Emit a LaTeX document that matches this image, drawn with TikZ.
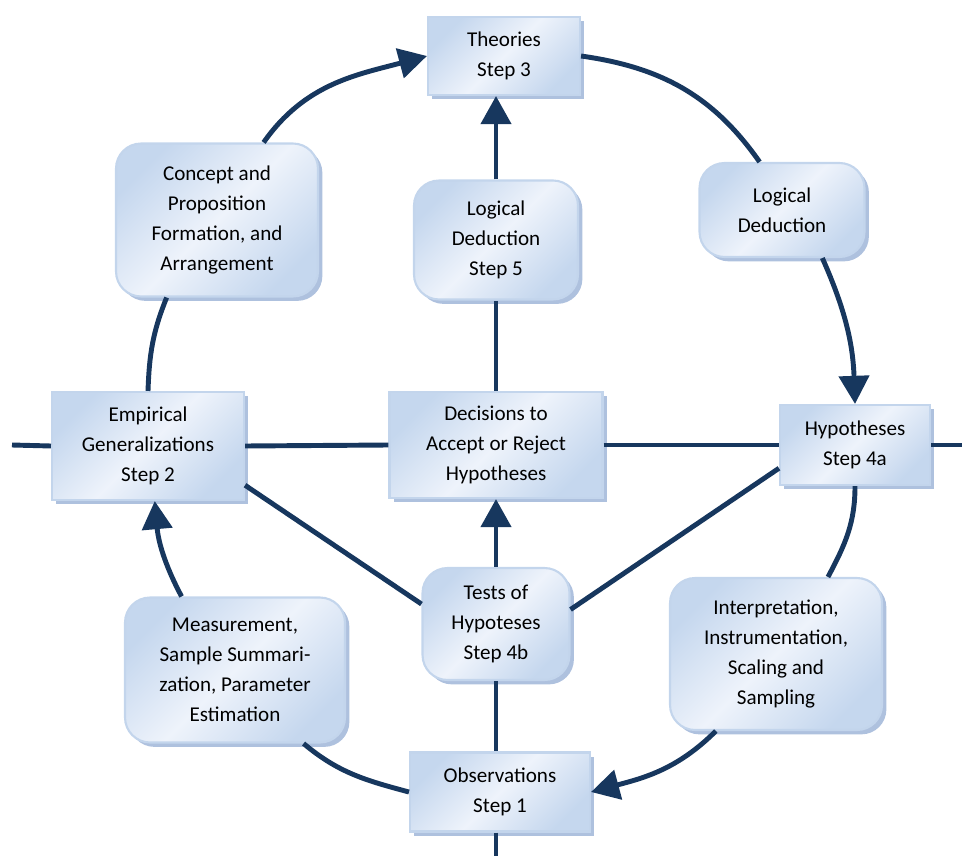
\documentclass[tikz,border=0pt]{standalone}
\usepackage{fontspec}
\setmainfont{Carlito}
\usepackage{xcolor}
\usetikzlibrary{arrows.meta,shadows}

\definecolor{navy}{HTML}{17375E}
\definecolor{boxedge}{HTML}{C3D5EC}
\definecolor{boxlight}{HTML}{EEF3FB}
\definecolor{boxdark}{HTML}{C5D7EE}
\definecolor{boxshade}{HTML}{9AB1D6}

\begin{document}
\begin{tikzpicture}[x=0.02cm, y=0.02cm,
        box/.style={draw=boxedge, line width=1.2pt, inner sep=0pt, align=center,
            left color=boxdark, right color=boxdark, middle color=boxlight, shading angle=45,
            drop shadow={shadow xshift=2.5pt, shadow yshift=-2.5pt, fill=boxshade, opacity=0.8},
            font=\fontsize{12}{17}\selectfont},
        rbox/.style={box, rounded corners=0.5cm},
        link/.style={draw=navy, line width=2.8pt},
        arrowlink/.style={link, -{Triangle[length=16pt, width=17pt]}}]
        \useasboundingbox (0,0) rectangle (962,856);

        % Boxes on the cross
        \node[box, minimum width=3.04cm, minimum height=1.56cm] (th) at (504,800) {Theories\\Step 3};
        \node[rbox, minimum width=3.28cm, minimum height=2.38cm] (ld5) at (496,616) {Logical\\Deduction\\Step 5};
        \node[box, minimum width=3.84cm, minimum height=2.16cm] (emp) at (148,410) {Empirical\\Generalizations\\Step 2};
        \node[box, minimum width=4.26cm, minimum height=2.12cm] (dec) at (496,411) {Decisions to\\Accept or Reject\\Hypotheses};
        \node[box, minimum width=3.0cm, minimum height=1.6cm] (hyp) at (855,411) {Hypotheses\\Step 4a};
        \node[rbox, minimum width=2.94cm, minimum height=2.24cm] (tst) at (496,232) {Tests of\\Hypoteses\\Step 4b};
        \node[box, minimum width=3.6cm, minimum height=1.58cm] (obs) at (500,64) {Observations\\Step 1};

        % Boxes on the ring
        \node[rbox, minimum width=4.04cm, minimum height=3.06cm] (cp) at (217,636) {Concept and\\Proposition\\Formation, and\\Arrangement};
        \node[rbox, minimum width=3.3cm, minimum height=1.88cm] (ldr) at (782,646) {Logical\\Deduction};
        \node[rbox, minimum width=4.4cm, minimum height=2.9cm] (msr) at (235,186) {Measurement,\\Sample Summari-\\zation, Parameter\\Estimation};
        \node[rbox, minimum width=4.24cm, minimum height=3.04cm] (itp) at (776,202) {Interpretation,\\Instrumentation,\\Scaling and\\Sampling};

        % Free ends
        \coordinate (lft) at (12,411);
        \coordinate (rgt) at (962,411);
        \coordinate (bot) at (496,0);

        % Horizontal line
        \draw[link] (lft) -- (emp.west);
        \draw[link] (emp.east) -- (dec.west);
        \draw[link] (dec.east) -- (hyp.west);
        \draw[link] (hyp.east) -- (rgt);

        % Vertical line
        \draw[arrowlink] (ld5.north) -- (ld5.north |- th.south);
        \draw[link] (dec.north) -- (ld5.south);
        \draw[arrowlink] (tst.north) -- (dec.south);
        \draw[link] (tst.south) -- (tst.south |- obs.north);
        \draw[link] (bot |- obs.south) -- (bot);

        % Diagonals
        \draw[link] (emp.-22) -- (tst.165);
        \draw[link] (tst.11) -- (hyp.197);

        % Ring
        \draw[arrowlink] (cp.59) to[out=55, in=195] (th.west);
        \draw[link] (th.east) to[out=-8, in=125] (ldr.115);
        \draw[arrowlink] (ldr.-50) to[out=-66, in=92] (hyp.north);
        \draw[link] (hyp.south) to[out=-90, in=62] (itp.56);
        \draw[arrowlink] (itp.-128) to[out=-135, in=15] (obs.east);
        \draw[link] (msr.-47) to[out=-40, in=165] (obs.west);
        \draw[arrowlink] (msr.126) to[out=118, in=-85] (emp.-83);
        \draw[link] (cp.-123) to[out=-112, in=88] (emp.north);
\end{tikzpicture}
\end{document}
